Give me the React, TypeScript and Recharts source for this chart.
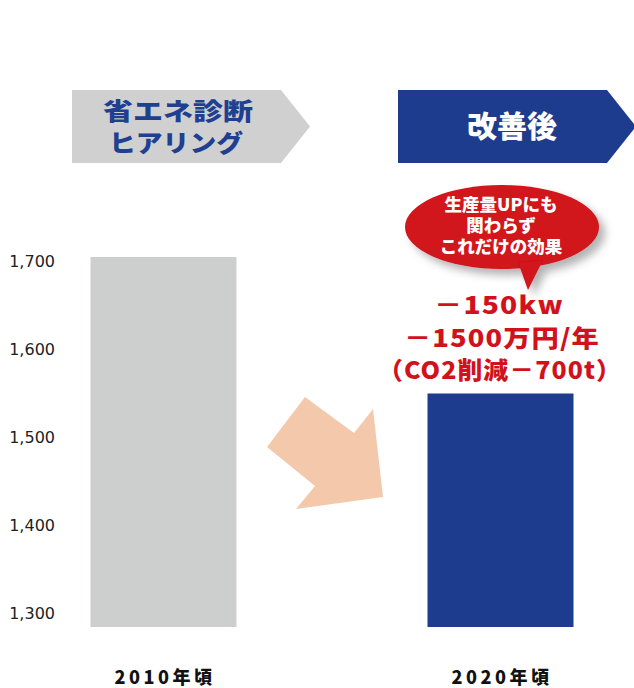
import React from 'react';
import { BarChart, Bar, XAxis, YAxis, Cell } from 'recharts';

const categories = ['2010年頃', '2020年頃'];
const usage = [1705, 1550];
const barColors = ['#cdcfce', '#1e3c8e'];
const yTicks = [1300, 1400, 1500, 1600, 1700];
const yDomain = [1285, 1755];
const headerLabels = [['省エネ診断', 'ヒアリング'], ['改善後']];
const bubbleLines = ['生産量UPにも', '関わらず', 'これだけの効果'];
const effectLines = ['－150kw', '－1500万円/年', '（CO2削減－700t）'];

const data = categories.map((c, i) => ({ name: c, value: usage[i] }));

const CJK = '"Noto Sans CJK JP", "Noto Sans", sans-serif';
const RED = '#d1121c';

const YTick = (props: any) => {
  const { y, payload } = props;
  return (
    <text x={55} y={y} dy="0.355em" textAnchor="end" fill="#222" fontSize={16} fontFamily='"DejaVu Sans", sans-serif'>
      {Number(payload.value).toLocaleString('en-US')}
    </text>
  );
};

const XTick = (props: any) => {
  const { x, y, payload } = props;
  return (
    <text x={x + 2} y={y + 49} textAnchor="middle" fill="#111" fontSize={18} fontWeight={900} letterSpacing={3.5} fontFamily={CJK}>
      {payload.value}
    </text>
  );
};

const Overlay = () => (
  <svg width={634} height={688} style={{ position: 'absolute', left: 0, top: 0, pointerEvents: 'none' }}>
    <defs>
      <filter id="shadow" x="-20%" y="-20%" width="150%" height="160%">
        <feDropShadow dx={6} dy={6} stdDeviation={4} floodColor="#000" floodOpacity={0.3} />
      </filter>
    </defs>
    {/* header arrows */}
    <polygon points="72,90 281,90 310,126.5 281,163 72,163" fill="#cfd0cf" />
    <text x={178} y={120} textAnchor="middle" fill="#1f3f91" fontSize={24} fontWeight={900} fontFamily={CJK} textLength={150} lengthAdjust="spacingAndGlyphs">
      {headerLabels[0][0]}
    </text>
    <text x={176} y={152} textAnchor="middle" fill="#1f3f91" fontSize={24} fontWeight={900} fontFamily={CJK} textLength={134} lengthAdjust="spacingAndGlyphs">
      {headerLabels[0][1]}
    </text>
    <polygon points="398,90 607,90 636,126.5 607,163 398,163" fill="#1e3c8e" />
    <text x={512} y={137} textAnchor="middle" fill="#fff" fontSize={30} fontWeight={900} fontFamily={CJK} textLength={90} lengthAdjust="spacingAndGlyphs">
      {headerLabels[1][0]}
    </text>
    {/* speech bubble */}
    <g filter="url(#shadow)">
      <ellipse cx={502} cy={227} rx={97} ry={42} fill={RED} />
      <polygon points="518,262 543,260 528,290" fill={RED} />
    </g>
    {bubbleLines.map((t, i) => (
      <text key={t} x={501} y={211 + i * 21} textAnchor="middle" fill="#fff" fontSize={17.5} fontWeight={900} fontFamily={CJK}>
        {t}
      </text>
    ))}
    {/* effect text */}
    {effectLines.map((t, i) => (
      <text key={t} x={[499, 502, 500][i]} y={[314, 347, 379][i]} textAnchor="middle" fill={RED} fontSize={24} fontWeight={900} letterSpacing={1} fontFamily={CJK} textLength={[130, 196, 244][i]} lengthAdjust="spacingAndGlyphs">
        {t}
      </text>
    ))}
    {/* orange arrow */}
    <polygon points="305,397 354,433 373,409 383,497 296,509 315,486 267,447" fill="#f4c9ab" />
  </svg>
);

export default function App() {
  return (
    <div style={{ position: 'absolute', left: 0, top: 0, width: 634, height: 688, background: '#fff', overflow: 'hidden' }}>
      <BarChart width={634} height={688} data={data} margin={{ top: 213, right: -34.5, bottom: 31, left: -65.5 }}>
        <XAxis dataKey="name" axisLine={false} tickLine={false} height={30} tick={<XTick />} interval={0} />
        <YAxis type="number" domain={yDomain} ticks={yTicks} width={60} axisLine={false} tickLine={false} tick={<YTick />} interval={0} />
        <Bar dataKey="value" barSize={146} isAnimationActive={false}>
          {data.map((d, i) => (
            <Cell key={d.name} fill={barColors[i]} />
          ))}
        </Bar>
      </BarChart>
      <Overlay />
    </div>
  );
}
